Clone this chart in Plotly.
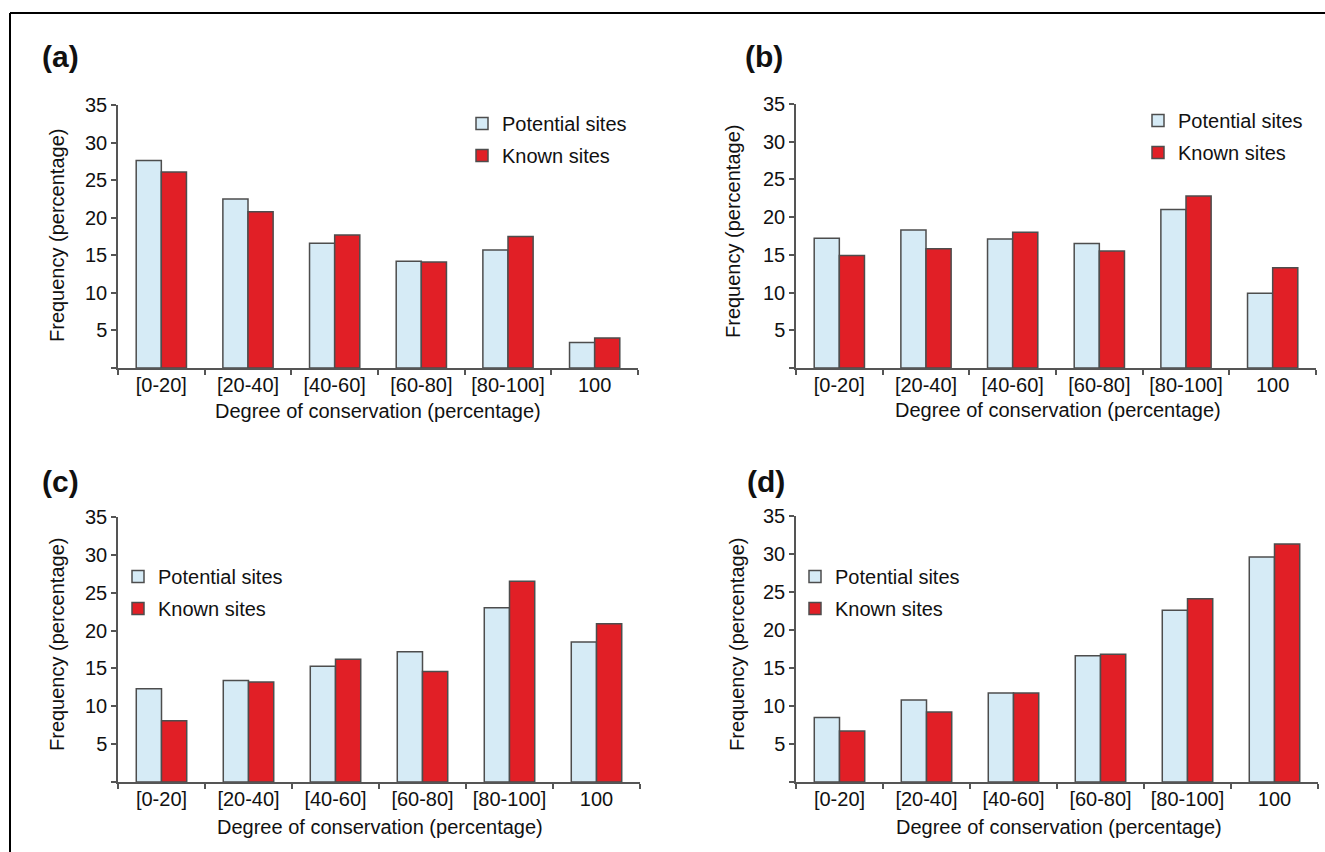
import plotly.graph_objects as go

W, H = 1325, 852

categories = ["[0-20]", "[20-40]", "[40-60]", "[60-80]", "[80-100]", "100"]

potential_a = [27.6, 22.5, 16.6, 14.2, 15.7, 3.4]
known_a = [26.1, 20.8, 17.7, 14.1, 17.5, 4.0]
potential_b = [17.2, 18.3, 17.1, 16.5, 21.0, 9.9]
known_b = [14.9, 15.8, 18.0, 15.5, 22.8, 13.3]
potential_c = [12.3, 13.4, 15.3, 17.2, 23.0, 18.5]
known_c = [8.1, 13.2, 16.2, 14.6, 26.5, 20.9]
potential_d = [8.5, 10.8, 11.7, 16.6, 22.6, 29.6]
known_d = [6.7, 9.2, 11.7, 16.8, 24.1, 31.3]

panel_labels = ["(a)", "(b)", "(c)", "(d)"]
y_ticks = [0, 5, 10, 15, 20, 25, 30, 35]
y_tick_text = ["", "5", "10", "15", "20", "25", "30", "35"]
x_title = "Degree of conservation (percentage)"
y_title = "Frequency (percentage)"
series_names = ["Potential sites", "Known sites"]

FONT = "Liberation Sans, Arial, sans-serif"
POT_COLOR = "#D6EBF6"
KNOWN_COLOR = "#E11F26"
EDGE = "#4d4d4d"
AXIS = "#555555"

def px_x(p):
    return p / W

def px_y(p):
    return 1 - p / H

# panel geometry (pixels): x0, x1, y_bottom, y_top
panels = [
    dict(x=(118, 638), y=(368, 105), leg=(462, 104), title=(40, 56), xt=(378, 411), yt=(57, 236)),
    dict(x=(796, 1316), y=(368, 104), leg=(1138, 101), title=(743, 56), xt=(1058, 410), yt=(733, 232)),
    dict(x=(118, 640), y=(782, 517), leg=(118, 557), title=(40, 482), xt=(380, 827), yt=(57, 645)),
    dict(x=(796, 1318), y=(782, 516), leg=(795, 557), title=(745, 482), xt=(1059, 827), yt=(737, 645)),
]
data = [(potential_a, known_a), (potential_b, known_b), (potential_c, known_c), (potential_d, known_d)]

fig = go.Figure()
layout = dict(
    width=W, height=H,
    margin=dict(l=0, r=0, t=0, b=0, pad=0, autoexpand=False),
    paper_bgcolor="white", plot_bgcolor="white",
    barmode="group", bargap=0.42, bargroupgap=0.0,
    font=dict(family=FONT, size=20, color="#111111"),
    showlegend=True,
)
annotations = []
shapes = []

for i, (pan, (pot, kn)) in enumerate(zip(panels, data)):
    n = "" if i == 0 else str(i + 1)
    xa, ya = "x" + n, "y" + n
    lg = "legend" + n
    for name, vals, col in [(series_names[0], pot, POT_COLOR), (series_names[1], kn, KNOWN_COLOR)]:
        fig.add_trace(go.Bar(
            x=categories, y=vals, name=name, xaxis=xa, yaxis=ya,
            marker=dict(color=col, line=dict(color=EDGE, width=1.5)),
            legend=lg, legendgroup=f"{name}{i}",
        ))
    layout["xaxis" + n] = dict(
        domain=[px_x(pan["x"][0]), px_x(pan["x"][1])], anchor=ya,
        type="category", categoryorder="array", categoryarray=categories,
        range=[-0.5, 5.5], showline=True, linecolor=AXIS, linewidth=1.5,
        ticks="outside", tickson="boundaries", ticklen=5, tickwidth=1.5, tickcolor=AXIS,
        showgrid=False, zeroline=False, tickfont=dict(size=20, color="#111111"),
        ticklabelstandoff=-2, fixedrange=True,
    )
    layout["yaxis" + n] = dict(
        domain=[px_y(pan["y"][0]), px_y(pan["y"][1])], anchor=xa,
        range=[0, 35], tickvals=y_ticks, ticktext=y_tick_text,
        showline=True, linecolor=AXIS, linewidth=1.5,
        ticks="outside", ticklen=5, tickwidth=1.5, tickcolor=AXIS,
        showgrid=False, zeroline=False, tickfont=dict(size=20, color="#111111"),
        fixedrange=True,
    )
    layout[lg] = dict(
        x=px_x(pan["leg"][0]), y=px_y(pan["leg"][1]), xanchor="left", yanchor="top",
        xref="paper", yref="paper", bgcolor="rgba(0,0,0,0)", borderwidth=0,
        font=dict(size=20, color="#111111", family=FONT), tracegroupgap=3,
        traceorder="grouped",
    )
    annotations.append(dict(
        text=f"<b>{panel_labels[i]}</b>", x=px_x(pan["title"][0]), y=px_y(pan["title"][1]),
        xref="paper", yref="paper", xanchor="left", yanchor="middle", showarrow=False,
        font=dict(size=30, color="#111111", family=FONT),
    ))
    annotations.append(dict(
        text=x_title, x=px_x(pan["xt"][0]), y=px_y(pan["xt"][1]),
        xref="paper", yref="paper", xanchor="center", yanchor="middle", showarrow=False,
        font=dict(size=20, color="#111111", family=FONT),
    ))
    annotations.append(dict(
        text=y_title, x=px_x(pan["yt"][0]), y=px_y(pan["yt"][1]), textangle=-90,
        xref="paper", yref="paper", xanchor="center", yanchor="middle", showarrow=False,
        font=dict(size=20, color="#111111", family=FONT),
    ))

shapes.append(dict(type="line", xref="paper", yref="paper", x0=px_x(10), x1=1, y0=px_y(13), y1=px_y(13),
                   line=dict(color="black", width=2)))
shapes.append(dict(type="line", xref="paper", yref="paper", x0=px_x(10), x1=px_x(10), y0=px_y(13), y1=0,
                   line=dict(color="black", width=2)))

layout["annotations"] = annotations
layout["shapes"] = shapes
fig.update_layout(**layout)

post = (
    "document.documentElement.style.margin='0';"
    "document.body.style.margin='0';"
    "document.body.style.overflow='hidden';"
    "var d=document.getElementById('{plot_id}');"
    "d.style.position='fixed';d.style.left='0px';d.style.top='0px';"
)
fig.write_html("out.html", post_script=post, config=dict(displayModeBar=False))
